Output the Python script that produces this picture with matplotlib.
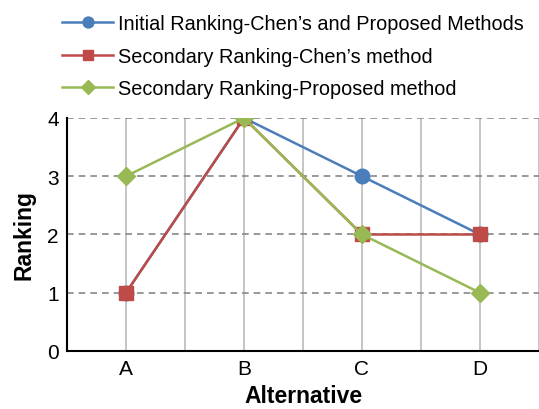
import matplotlib
matplotlib.use("Agg")
import matplotlib.pyplot as plt

plt.rcParams['font.family'] = ['Liberation Sans', 'DejaVu Sans']

alternatives = ["A", "B", "C", "D"]
initial = [1, 4, 3, 2]
secondary_chen = [1, 4, 2, 2]
secondary_proposed = [3, 4, 2, 1]

labels = ["Initial Ranking-Chen\u2019s and Proposed Methods",
          "Secondary Ranking-Chen\u2019s method",
          "Secondary Ranking-Proposed method"]

fig = plt.figure(figsize=(5.39, 4.10), dpi=100)
ax = fig.add_axes([0.1243, 0.1415, 0.8757, 0.5683])

x = range(len(alternatives))
ax.plot(x, initial, color="#4a7ebb", lw=1.8, marker="o", ms=10.5, label=labels[0], zorder=3)
ax.plot(x, secondary_chen, color="#be4b48", lw=1.8, marker="s", ms=10, label=labels[1], zorder=4)
ax.plot(x, secondary_proposed, color="#98b954", lw=1.8, marker="D", ms=9, label=labels[2], zorder=5)

ax.set_xlim(-0.5, 3.5)
ax.set_ylim(0, 4)
ax.set_xticks(list(x))
ax.set_xticklabels(alternatives)
ax.set_yticks([0, 1, 2, 3, 4])

# vertical grid at categories and between them
for v in [0, 0.5, 1, 1.5, 2, 2.5, 3, 3.5]:
    ax.axvline(v, color="#bbbbbb", lw=1.2, zorder=1)
for h in [1, 2, 3, 4]:
    ax.axhline(h, color="#888888", lw=1.2, ls=(0, (4, 3)), zorder=2)

ax.spines["top"].set_visible(False)
ax.spines["right"].set_visible(False)
ax.spines["left"].set_linewidth(1.5)
ax.spines["bottom"].set_linewidth(1.5)
ax.tick_params(length=0, labelsize=15, pad=6)

ax.set_xlabel("Alternative", fontsize=16.5, fontweight="bold", labelpad=4)
ax.set_ylabel("Ranking", fontsize=16.5, fontweight="bold", labelpad=8)

fig.legend(loc="upper left", bbox_to_anchor=(0.09, 0.997), frameon=False,
           fontsize=14.3, handlelength=2.55, handletextpad=0.25,
           labelspacing=0.68, borderaxespad=0.3, markerscale=0.75)

fig.savefig("out.png", dpi=100)
